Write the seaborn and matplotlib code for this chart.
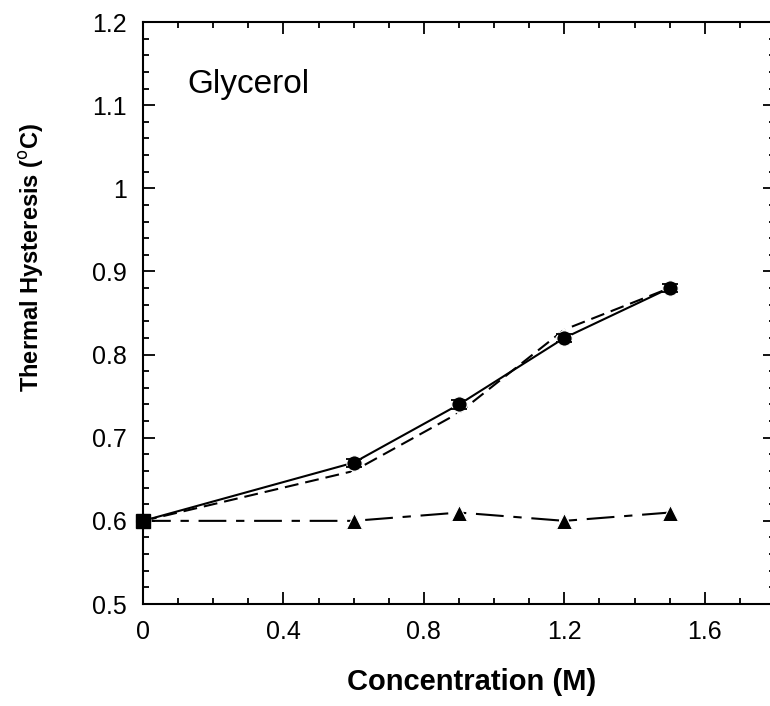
import matplotlib
matplotlib.use("Agg")
import matplotlib.pyplot as plt
import seaborn as sns
from matplotlib.ticker import MultipleLocator

# Data
conc = [0.0, 0.6, 0.9, 1.2, 1.5]
th_circle = [0.60, 0.67, 0.74, 0.82, 0.88]
th_circle_err = [0.004, 0.005, 0.005, 0.005, 0.005]
th_cross = [0.60, 0.66, 0.73, 0.83, 0.88]
th_triangle = [0.60, 0.60, 0.61, 0.60, 0.61]
ctrl_x = [0.0]
ctrl_y = [0.60]

sns.set_theme(style="ticks")
plt.rcParams['font.family'] = ['Liberation Sans', 'DejaVu Sans']
plt.rcParams['lines.scale_dashes'] = False
for key in ['text.color', 'axes.labelcolor', 'xtick.color', 'ytick.color',
            'xtick.labelcolor', 'ytick.labelcolor']:
    plt.rcParams[key] = 'black'

fig = plt.figure(figsize=(7.7, 7.06), dpi=100)
ax = fig.add_axes([143 / 770, 102 / 706, 632 / 770, 582 / 706])

# triangles: long-short dashed
sns.lineplot(x=conc, y=th_triangle, color='black', linewidth=1.5,
             marker='^', markersize=11, dashes=(20, 7, 6, 7), ax=ax, clip_on=False)
# crosses: dashed
sns.lineplot(x=conc, y=th_cross, color='black', linewidth=1.5,
             marker='x', markersize=11, markeredgewidth=1.4,
             dashes=(10, 5), ax=ax, clip_on=False)
# circles: solid
sns.lineplot(x=conc, y=th_circle, color='black', linewidth=1.5,
             marker='o', markersize=11, ax=ax, clip_on=False)

ax.errorbar(conc, th_circle, yerr=th_circle_err, fmt='none', ecolor='black',
            elinewidth=1.2, capsize=6, capthick=1.3)
ax.plot(ctrl_x, ctrl_y, 's', color='black', markersize=10, clip_on=False)

ax.set_xlim(0, 1.8)
ax.set_ylim(0.5, 1.2)
ax.xaxis.set_minor_locator(MultipleLocator(0.1))
ax.yaxis.set_minor_locator(MultipleLocator(0.02))
ax.set_xticks([0, 0.4, 0.8, 1.2, 1.6])
ax.set_xticklabels(['0', '0.4', '0.8', '1.2', '1.6'])
ax.set_yticks([0.5, 0.6, 0.7, 0.8, 0.9, 1.0, 1.1, 1.2])
ax.set_yticklabels(['0.5', '0.6', '0.7', '0.8', '0.9', '1', '1.1', '1.2'])

ax.tick_params(which='both', direction='in', top=True, right=True,
               color='black', width=1.3, labelsize=18, pad=11.5)
ax.tick_params(which='major', length=8.5)
ax.tick_params(which='minor', length=4.3)
for sp in ax.spines.values():
    sp.set_visible(True)
    sp.set_color('black')
    sp.set_linewidth(1.5)

ax.set_xlabel('Concentration (M)', fontsize=21, fontweight='bold')
ax.set_ylabel(r'Thermal Hysteresis ($^{\rm o}$C)', fontsize=17, fontweight='bold')
ax.xaxis.set_label_coords(0.52, -0.110)
ax.yaxis.set_label_coords(-0.153, 0.595)

ax.text(0.125, 1.1146, 'Glycerol', fontsize=24, ha='left', va='baseline')

fig.savefig('out.png', dpi=100)
